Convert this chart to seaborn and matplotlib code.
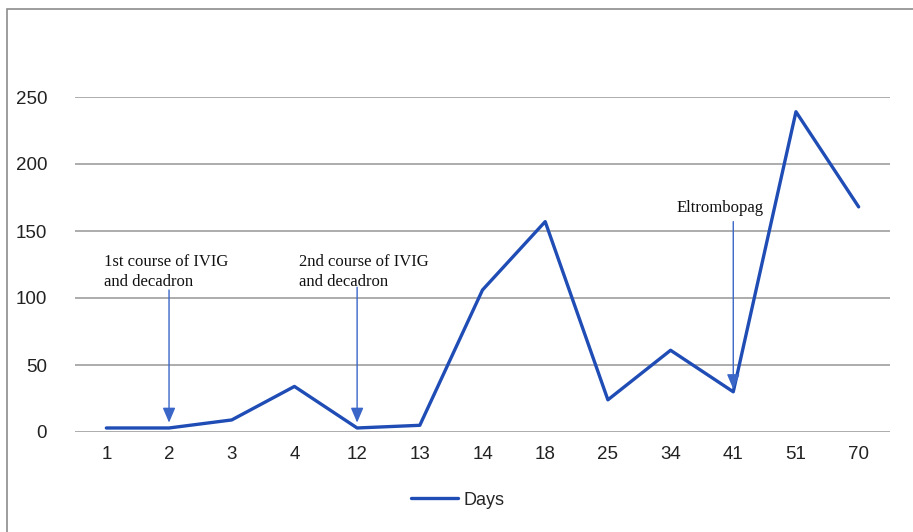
import pandas as pd
import matplotlib.pyplot as plt
import seaborn as sns
from matplotlib.patches import Rectangle

# Datos
dias = ['1', '2', '3', '4', '12', '13', '14', '18', '25', '34', '41', '51', '70']
valores = [3, 3, 9, 34, 3, 5, 106, 157, 24, 61, 30, 239, 168]

notas = ['1st course of IVIG\nand decadron', '2nd course of IVIG\nand decadron', 'Eltrombopag']
notas_dia = ['2', '12', '41']

df = pd.DataFrame({'Dia': dias, 'Valor': valores})

sns.set_theme(style="white")
plt.rcParams['font.family'] = ['Liberation Sans', 'DejaVu Sans']

fig = plt.figure(figsize=(9.13, 5.32), dpi=100)
ax = fig.add_axes([75 / 913, 100 / 532, 815 / 913, 335 / 532])

color_linea = '#1F4DB5'
sns.lineplot(data=df, x='Dia', y='Valor', color=color_linea, linewidth=2.4,
             label='Days', ax=ax, sort=False)

ax.set_xlim(-0.5, len(dias) - 0.5)
ax.set_ylim(0, 250)
ax.set_yticks(range(0, 251, 50))
ax.yaxis.grid(True, color='#A6A6A6', linewidth=1.3)
ax.xaxis.grid(False)
for s in ax.spines.values():
    s.set_visible(False)
ax.tick_params(axis='both', length=0, labelsize=13.5, colors='#222222')
ax.tick_params(axis='x', pad=10)
ax.tick_params(axis='y', pad=20)
ax.set_xlabel('')
ax.set_ylabel('')

# flechas de las intervenciones
inicio = [106, 108, 157]
punta = [7, 7, 32]
texto_x = [-0.04, 3.07, 9.1]
texto_y = [106, 106, 161]
for nota, d, y0, y1, tx, ty in zip(notas, notas_dia, inicio, punta, texto_x, texto_y):
    xi = dias.index(d)
    ax.annotate('', xy=(xi, y1), xytext=(xi, y0),
                arrowprops=dict(arrowstyle='-|>,head_length=0.75,head_width=0.32',
                                color='#3A66C8', lw=1.0, shrinkA=0, shrinkB=0))
    ax.text(tx, ty, nota, family=['Liberation Serif', 'DejaVu Serif'], fontsize=12,
            ha='left', va='bottom', color='#111111', linespacing=1.3)

ax.legend(loc='upper center', bbox_to_anchor=(0.47, -0.13), frameon=False,
          fontsize=13, handlelength=2.6, handletextpad=0.3)

# marco del grafico
fig.patches.append(Rectangle((7 / 913, -0.05), 1.2, 1 - 9 / 532 + 0.05,
                             transform=fig.transFigure, fill=False,
                             edgecolor='#8C8C8C', linewidth=1.2))

fig.savefig('out.png', dpi=100)
